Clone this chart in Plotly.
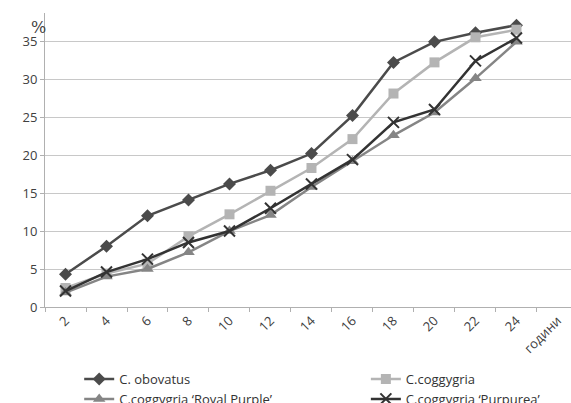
import plotly.graph_objects as go

categories = ["2", "4", "6", "8", "10", "12", "14", "16", "18", "20", "22", "24", "години"]
years = categories[:12]

obovatus = [4.3, 8.0, 12.0, 14.1, 16.2, 18.0, 20.2, 25.2, 32.2, 34.9, 36.1, 37.1]
coggygria = [2.5, 4.4, 5.7, 9.3, 12.2, 15.3, 18.3, 22.1, 28.1, 32.2, 35.5, 36.5]
royal_purple = [1.9, 4.0, 5.0, 7.2, 10.0, 12.1, 15.8, 19.2, 22.6, 25.6, 30.1, 34.9]
purpurea = [2.1, 4.6, 6.3, 8.5, 10.0, 13.0, 16.2, 19.4, 24.3, 26.0, 32.4, 35.4]

series = [
    ("C. obovatus", obovatus, "#4b4b4b", "diamond", 10, "legend"),
    ("C.coggygria", coggygria, "#b4b4b4", "square", 10, "legend2"),
    ("C.coggygria \u2018Royal Purple\u2019", royal_purple, "#858585", "triangle-up", 11, "legend"),
    ("C.coggygria \u2018Purpurea\u2019", purpurea, "#333333", "x-thin", 11, "legend2"),
]

fig = go.Figure()
for name, vals, color, sym, size, leg in series:
    marker = dict(symbol=sym, size=size, color=color)
    if sym == "x-thin":
        marker["line"] = dict(color=color, width=2)
    fig.add_trace(go.Scatter(
        x=years, y=vals, name=name, mode="lines+markers",
        line=dict(color=color, width=2.5), marker=marker, legend=leg,
    ))

font_family = "Open Sans, Liberation Sans, sans-serif"
legend_common = dict(
    orientation="v", xanchor="left", yanchor="top", y=-0.194,
    font=dict(size=13, color="#333333"), itemwidth=30, tracegroupgap=0,
    bgcolor="rgba(0,0,0,0)",
)

fig.update_layout(
    width=571, height=403,
    margin=dict(l=45, r=0, t=13, b=96, autoexpand=False),
    paper_bgcolor="white", plot_bgcolor="white",
    font=dict(family=font_family, size=13, color="#404040"),
    showlegend=True,
    legend=dict(x=0.065, **legend_common),
    legend2=dict(x=0.610, **legend_common),
    xaxis=dict(
        type="category", categoryorder="array", categoryarray=categories,
        range=[-0.5, 12.33], tickangle=-45, tickson="boundaries",
        ticks="outside", ticklen=4, tickcolor="#b0b0b0",
        showgrid=False, showline=True, linecolor="#b0b0b0", linewidth=1,
        tickfont=dict(size=13, color="#404040"), zeroline=False,
    ),
    yaxis=dict(
        range=[0, 38.7], tickvals=[0, 5, 10, 15, 20, 25, 30, 35],
        ticks="outside", ticklen=4, tickcolor="#b0b0b0",
        showgrid=True, gridcolor="#c8c8c8", gridwidth=1,
        showline=True, linecolor="#b0b0b0", linewidth=1,
        zeroline=False, tickfont=dict(size=13, color="#404040"),
    ),
    annotations=[dict(
        text="%", xref="paper", yref="paper", x=-0.013, y=0.952,
        xanchor="center", yanchor="middle", showarrow=False,
        font=dict(size=16, color="#404040", family="DejaVu Serif, serif"),
    )],
)

fig.write_html(
    "out.html",
    config={"displayModeBar": False},
    post_script="document.body.style.margin='0px';document.body.style.overflow='hidden';",
)
